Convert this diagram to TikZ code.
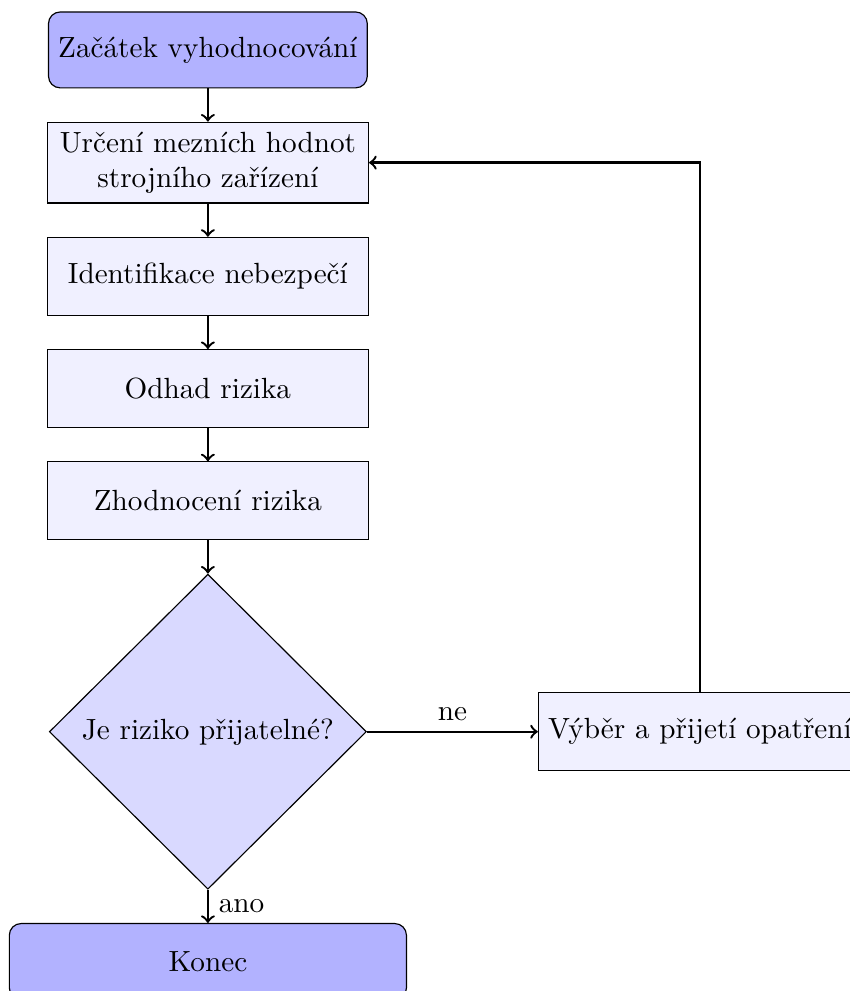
\documentclass[tikz,border=0pt]{standalone}
\usepackage{tikz}
\usetikzlibrary{positioning,shapes.geometric}

\begin{document}
\begin{tikzpicture}[node distance=11.35pt and 58.5pt]
\tikzstyle{startstop}=[draw,rounded corners,fill=blue!30,align=center,minimum height=26pt]
\tikzstyle{process}=[draw,fill=blue!6,align=center,minimum width=110pt,minimum height=26.7pt]
\tikzstyle{decision}=[draw,diamond,fill=blue!15,inner sep=0pt,minimum width=108.6pt,minimum height=107.9pt]
\tikzstyle{arrow}=[thick,->]
\useasboundingbox (0,0) rectangle (291.1pt,-339.4pt);
\node[startstop] (start) at (71.2pt,-17.1pt) {Začátek vyhodnocování};
\node[process,below=of start] (urceni) {Určení mezních hodnot\\strojního zařízení};
\node[process,below=of urceni] (identifikace) {Identifikace nebezpečí};
\node[process,below=of identifikace] (odhad) {Odhad rizika};
\node[process,below=of odhad] (zhodnoceni) {Zhodnocení rizika};
\node[decision,below=of zhodnoceni] (prijatelne) {\makebox[0pt]{Je riziko přijatelné?}};
\node[process,right=of prijatelne] (opatreni) {Výběr a přijetí opatření};
\node[startstop,minimum width=136pt,below=of prijatelne] (konec) {Konec};
\draw[arrow] (start) -- (urceni);
\draw[arrow] (urceni) -- (identifikace);
\draw[arrow] (identifikace) -- (odhad);
\draw[arrow] (odhad) -- (zhodnoceni);
\draw[arrow] (zhodnoceni) -- (prijatelne);
\draw[arrow] (prijatelne) -- node[above] {ne} (opatreni);
\draw[arrow] (prijatelne) -- node[right] {ano} (konec);
\draw[arrow] (opatreni.north) |- (urceni.east);
\end{tikzpicture}
\end{document}
